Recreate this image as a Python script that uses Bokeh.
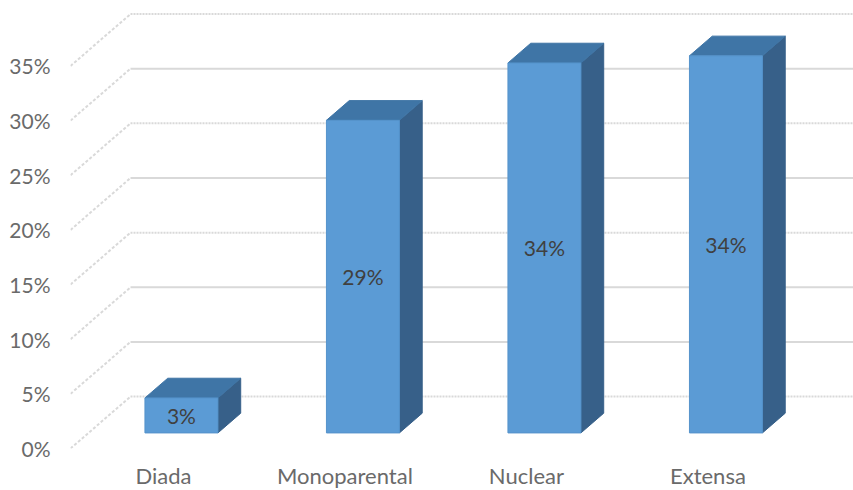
from bokeh.plotting import figure
from bokeh.models import FixedTicker, ColumnDataSource
from bokeh.core.properties import value
from bokeh.embed import file_html
from bokeh.resources import INLINE

categories = ["Diada", "Monoparental", "Nuclear", "Extensa"]
values = [3.2, 28.6, 33.85, 34.5]
bar_labels = ["3%", "29%", "34%", "34%"]
y_ticks = [0, 5, 10, 15, 20, 25, 30, 35]
y_tick_labels = ["0%", "5%", "10%", "15%", "20%", "25%", "30%", "35%"]
solid_grid = [5, 10, 20, 30]

X0, X1 = -0.512, 3.802
Y1 = 40.99
DX, DY = 0.3306, 4.75        # full depth of the 3D box in data units
F_FRONT, F_BACK = 0.30, 0.68 # bar front and back planes as a fraction of the depth
BAR_W = 0.402

FONT = "Lato"
p = figure(width=853, height=490, x_range=(X0, X1), y_range=(0, Y1),
           frame_width=783, frame_height=448,
           output_backend="svg", toolbar_location=None,
           min_border_left=70, min_border_right=0, min_border_top=0, min_border_bottom=42)
p.outline_line_color = None
p.grid.visible = False

p.xaxis.ticker = FixedTicker(ticks=list(range(len(categories))))
p.xaxis.major_label_overrides = {i: c for i, c in enumerate(categories)}
p.yaxis.ticker = FixedTicker(ticks=y_ticks)
p.yaxis.major_label_overrides = dict(zip(y_ticks, y_tick_labels))
for ax in (p.xaxis, p.yaxis):
    ax.axis_line_color = None
    ax.major_tick_line_color = None
    ax.minor_tick_line_color = None
    ax.major_tick_out = 0
    ax.major_label_text_font = FONT
    ax.major_label_text_color = "#6a6a6a"
p.yaxis.major_label_text_font_size = "21px"
p.xaxis.major_label_text_font_size = "22px"
p.yaxis.major_label_standoff = 20
p.xaxis.major_label_standoff = 13

GRID = "#d9d9d9"
# side-wall diagonals
p.segment(x0=[X0] * len(y_ticks), y0=y_ticks,
          x1=[X0 + DX] * len(y_ticks), y1=[v + DY for v in y_ticks],
          line_color=GRID, line_width=2, line_dash="3 2")
# back-wall gridlines
for v in y_ticks:
    p.line([X0 + DX, X1], [v + DY, v + DY], line_color=GRID, line_width=2,
           line_dash="solid" if v in solid_grid else "2 1")

fx, fy = DX * F_FRONT, DY * F_FRONT
bx, by = DX * F_BACK, DY * F_BACK
for i, v in enumerate(values):
    l, r = i + fx - BAR_W / 2, i + fx + BAR_W / 2
    # right side
    p.patch([r, r + bx - fx, r + bx - fx, r],
            [fy, by, v + by, v + fy], fill_color="#376089", line_color="#376089", line_width=1)
    # top
    p.patch([l, r, r + bx - fx, l + bx - fx],
            [v + fy, v + fy, v + by, v + by], fill_color="#3F75A6", line_color="#3F75A6", line_width=1)
    # front
    p.patch([l, r, r, l],
            [fy, fy, v + fy, v + fy], fill_color="#5B9BD5", line_color="#5593CB", line_width=1)

src = ColumnDataSource(dict(x=[i + fx for i in range(len(values))],
                            y=[v / 2 + fy for v in values], t=bar_labels))
p.text(x="x", y="y", text="t", source=src, text_font=value(FONT), text_font_size="21px",
       text_color="#404040", text_align="center", text_baseline="middle")

open("out.html", "w").write(file_html(p, INLINE))
